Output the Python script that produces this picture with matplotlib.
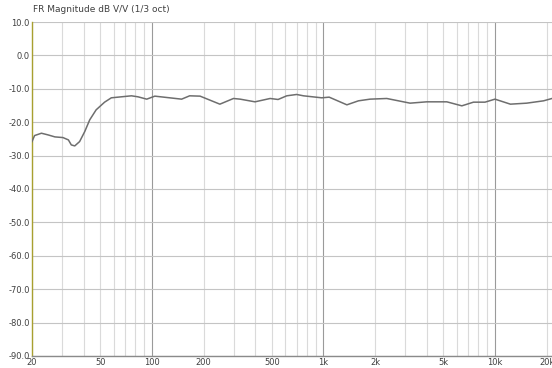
import numpy as np
import matplotlib
matplotlib.use("Agg")
import matplotlib.pyplot as plt
from matplotlib.ticker import FixedLocator, NullFormatter

# 1/3 oct smoothed response
freq = [20, 20.7, 22.7, 24.8, 27.2, 30.3, 32.6, 33.9, 35.5, 37.9, 40.6, 43.4, 47.3,
        53.0, 58.0, 66.4, 76.0, 83.0, 93.3, 104,
        149, 166, 191, 249, 299, 327, 399, 489, 544, 611, 698, 765, 978, 1080,
        1370, 1600, 1870, 2340, 3200, 4000, 5240, 6410, 7490, 8750, 10000,
        12300, 15300, 19200, 21500]
mag = [-25.8, -24.0, -23.3, -23.8, -24.4, -24.6, -25.3, -26.8, -27.1, -25.8, -22.8, -19.3, -16.3,
       -14.0, -12.7, -12.4, -12.1, -12.4, -13.1, -12.2,
       -13.1, -12.1, -12.2, -14.6, -12.9, -13.1, -13.9, -12.9, -13.2, -12.1, -11.7, -12.1, -12.7, -12.5,
       -14.8, -13.6, -13.1, -12.9, -14.3, -13.9, -13.9, -15.1, -14.0, -14.0, -13.1,
       -14.6, -14.3, -13.6, -12.9]

x_major = [20, 50, 100, 200, 500, 1000, 2000, 5000, 10000, 20000]
x_labels = ["20", "50", "100", "200", "500", "1k", "2k", "5k", "10k", "20k"]
y_ticks = list(range(10, -100, -10))
title = "FR Magnitude dB V/V (1/3 oct)"

plt.rcParams['font.family'] = ['DejaVu Sans']
fig = plt.figure(figsize=(5.52, 3.68), dpi=100)
ax = fig.add_axes([32/552, 12/368, 1 - 32/552, 334/368])

# vertical grid: every 10/100/1000 step, decades darker
for dec in [10, 100, 1000, 10000]:
    for m in range(1, 10):
        f = dec * m
        if f < 20 or f > 21500:
            continue
        col = "#9a9a9a" if m == 1 else "#dadada"
        ax.axvline(f, color=col, lw=0.8, zorder=0)
for y in y_ticks:
    ax.axhline(y, color="#c4c4c4", lw=0.8, zorder=0)

ax.semilogx(freq, mag, color="#6e6e6e", lw=1.1, zorder=3)

ax.set_xlim(20, 21500)
ax.set_ylim(-90, 10)
ax.xaxis.set_major_locator(FixedLocator(x_major))
ax.set_xticklabels(x_labels)
ax.xaxis.set_minor_formatter(NullFormatter())
ax.set_yticks(y_ticks)
ax.set_yticklabels(["%.1f" % v for v in y_ticks])
ax.tick_params(which="both", length=0, labelsize=6, colors="#404040", pad=1.5)

for s in ["top", "right"]:
    ax.spines[s].set_visible(False)
ax.spines["left"].set_color("#a8a030")
ax.spines["left"].set_linewidth(1.0)
ax.spines["bottom"].set_color("#8a8a8a")
ax.spines["bottom"].set_linewidth(1.0)

fig.text(33/552, 1 - 14/368, title, fontsize=6.5, color="#404040", va="bottom")

fig.savefig("out.png", dpi=100)
